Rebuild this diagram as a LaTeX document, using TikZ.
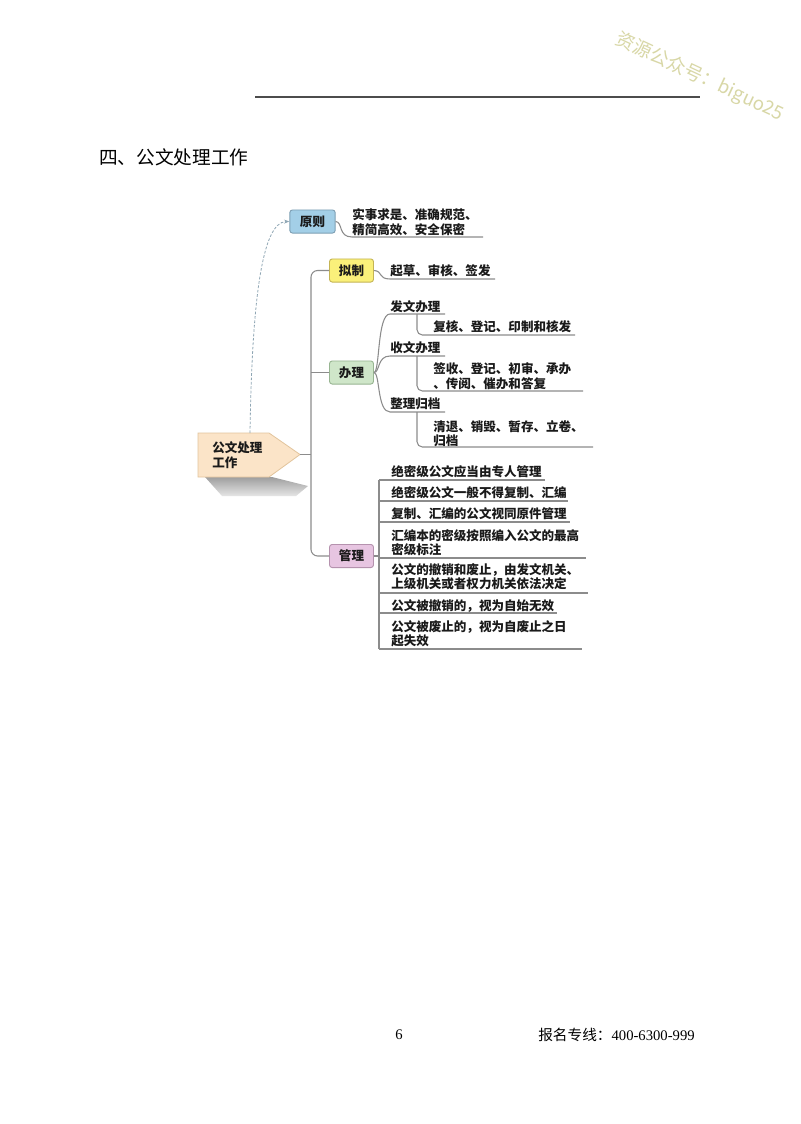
\documentclass[tikz,border=0pt]{standalone}
\usepackage{fontspec}
\setmainfont{Noto Sans CJK SC}
\newfontfamily\serifnum{Liberation Serif}
\usetikzlibrary{arrows.meta}
\definecolor{linegray}{HTML}{8C8C8C}
\definecolor{txt}{HTML}{1A1A1A}
\definecolor{wmcol}{HTML}{D8D7A6}
\definecolor{dashcol}{HTML}{8FA6B4}
\definecolor{bluefill}{HTML}{A3CFE7}
\definecolor{blueedge}{HTML}{7E9FB4}
\definecolor{yelfill}{HTML}{FAF07A}
\definecolor{yeledge}{HTML}{C4B454}
\definecolor{grnfill}{HTML}{CFE6C9}
\definecolor{grnedge}{HTML}{98B592}
\definecolor{pinkfill}{HTML}{E7C5E1}
\definecolor{pinkedge}{HTML}{B592AE}
\definecolor{peach}{HTML}{FBE4C8}
\definecolor{peachedge}{HTML}{E2C49C}
\newcommand\mapfont{\fontsize{9.4}{10.8}\selectfont\bfseries}
\tikzset{
  conn/.style={draw=linegray, line width=0.8pt},
  catbox/.style={draw=#1, line width=0.7pt, rounded corners=2pt, minimum width=33pt, minimum height=17.3pt, inner sep=0pt, font=\mapfont, text=txt},
  leaf/.style={anchor=west, inner sep=0pt, font=\mapfont, text=txt, align=left},
}
\begin{document}
\begin{tikzpicture}[x=0.75pt, y=-0.75pt]
\useasboundingbox (0,0) rectangle (800,1124);
\fill[white] (0,0) rectangle (800,1124);

% header rule and watermark
\coordinate (hl) at (255,97);
\coordinate (hr) at (700,97);
\draw[line width=1pt, color=black!70] (hl) -- (hr);
\node[rotate=-25, text=wmcol, font=\fontsize{14}{14}\selectfont] (wm) at (700,77) {资源公众号：biguo25};

% title
\node[anchor=west, inner sep=0pt, font=\fontsize{14}{14}\selectfont, text=black] (title) at (99,157) {四、公文处理工作};

% root node with shadow
\shade[top color=black!38, bottom color=black!10] (205,477) -- (272,477) -- (308,486) -- (296,496) -- (222,496) -- cycle;
\draw[fill=peach, draw=peachedge, line width=0.6pt] (198,433) -- (269,433) -- (300,454.5) -- (269,477) -- (198,477) -- cycle;
\node[leaf] (root) at (212,455) {公文处理\\工作};
\coordinate (rootTip) at (300,454.5);
\coordinate (rootTop) at (250,433);

% category boxes
\node[catbox=blueedge, fill=bluefill, minimum width=34pt] (yuanze) at (312.5,221.5) {原则};
\node[catbox=yeledge, fill=yelfill] (nizhi) at (351.5,270.5) {拟制};
\node[catbox=grnedge, fill=grnfill] (banli) at (351.5,372.5) {办理};
\node[catbox=pinkedge, fill=pinkfill] (guanli) at (351.5,556) {管理};

% trunk
\coordinate (trunkB) at (311,556);
\draw[conn, rounded corners=5pt] (nizhi.west) -| (trunkB) -- (guanli.west);
\draw[conn] (banli.west) -- (banli.west -| trunkB);
\draw[conn] (rootTip) -- (rootTip -| trunkB);

% dashed link to 原则
\draw[draw=dashcol, line width=0.6pt, dash pattern=on 2pt off 1.3pt, -{Stealth[length=4pt,width=3pt]}]
  (rootTop) .. controls (252,300) and (262,222) .. (yuanze.west);

% 原则 leaf
\node[leaf] (yzT) at (352,222) {实事求是、准确规范、\\精简高效、安全保密};
\coordinate (yzE) at (483,237);
\draw[conn] (yuanze.east) .. controls (343,222) and (338,237) .. (352,237) -- (yzE);

% 拟制 leaf
\node[leaf] (nzT) at (390,271) {起草、审核、签发};
\coordinate (nzE) at (495,279);
\draw[conn] (nizhi.east) .. controls (383,271) and (378,279) .. (390,279) -- (nzE);

% 办理 sub branches
\node[leaf] (fw) at (390,306.5) {发文办理};
\node[leaf] (sw) at (390,347.5) {收文办理};
\node[leaf] (zl) at (390,404) {整理归档};
\coordinate (fwE) at (445,314);
\coordinate (swE) at (445,356);
\coordinate (zlE) at (445,412);
\draw[conn] (banli.east) .. controls (380,372.5) and (377,314) .. (390,314) -- (fwE);
\draw[conn] (banli.east) .. controls (380,372.5) and (377,356) .. (390,356) -- (swE);
\draw[conn] (banli.east) .. controls (380,372.5) and (377,412) .. (390,412) -- (zlE);

\node[leaf] (fwT) at (433,327) {复核、登记、印制和核发};
\node[leaf] (swT) at (433,376) {签收、登记、初审、承办\\、传阅、催办和答复};
\node[leaf] (zlT) at (433,433.5) {清退、销毁、暂存、立卷、\\归档};
\coordinate (fwS) at (417,314);
\coordinate (swS) at (417,356);
\coordinate (zlS) at (417,412);
\draw[conn, rounded corners=4pt] (fwS) |- (575,335);
\draw[conn, rounded corners=4pt] (swS) |- (583,391);
\draw[conn, rounded corners=4pt] (zlS) |- (593,447);

% 管理 items
\coordinate (gTop) at (379,480);
\coordinate (gBot) at (379,649);
\draw[conn] (guanli.east) -- (guanli.east -| gTop);
\draw[conn] (gTop) -- (gBot);
\node[leaf] (g1) at (391,472) {绝密级公文应当由专人管理};
\node[leaf] (g2) at (391,493) {绝密级公文一般不得复制、汇编};
\node[leaf] (g3) at (391,514) {复制、汇编的公文视同原件管理};
\node[leaf] (g4) at (391,542.5) {汇编本的密级按照编入公文的最高\\密级标注};
\node[leaf] (g5) at (391,577) {公文的撤销和废止，由发文机关、\\上级机关或者权力机关依法决定};
\node[leaf] (g6) at (391,606) {公文被撤销的，视为自始无效};
\node[leaf] (g7) at (391,633.5) {公文被废止的，视为自废止之日\\起失效};
\draw[conn] (gTop) -- (545,480);
\draw[conn] (379,501) -- (568,501);
\draw[conn] (379,522) -- (570,522);
\draw[conn] (379,558) -- (586,558);
\draw[conn] (379,593) -- (588,593);
\draw[conn] (379,613) -- (557,613);
\draw[conn] (gBot) -- (582,649);

% footer
\node[inner sep=0pt, font=\fontsize{11}{11}\selectfont\serifnum] (pg) at (399,1035) {6};
\node[anchor=west, inner sep=0pt, font=\fontsize{11}{11}\selectfont] (tel) at (538,1035) {报名专线：{\serifnum 400-6300-999}};
\end{tikzpicture}
\end{document}
